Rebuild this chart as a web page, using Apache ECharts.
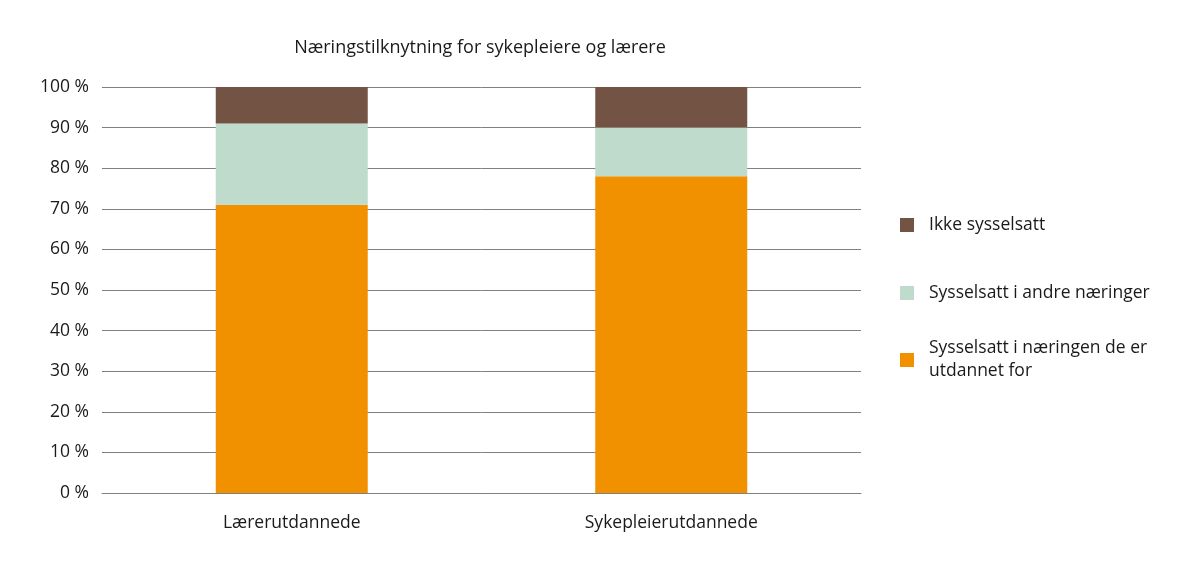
<!DOCTYPE html>
<html>
<head>
<meta charset="utf-8">
<script src="https://cdn.jsdelivr.net/npm/echarts@6/dist/echarts.min.js"></script>
<style>html,body{margin:0;padding:0;background:#fff}#c{width:1200px;height:569px}</style>
</head>
<body>
<div id="c"></div>
<script>
const categories = ['Lærerutdannede', 'Sykepleierutdannede'];
const seriesNames = ['Sysselsatt i næringen de er utdannet for', 'Sysselsatt i andre næringer', 'Ikke sysselsatt'];
const valuesUtdannetFor = [71, 78];
const valuesAndre = [20, 12];
const valuesIkke = [9, 10];
const colors = ['#F29100', '#BFDBCB', '#735444'];
const FONT = 'Open Sans';
const FS = 17.5;

const chart = echarts.init(document.getElementById('c'));
const legendBase = {
  orient: 'vertical', left: 900, padding: 0, itemWidth: 14, itemHeight: 14,
  icon: 'rect', selectedMode: false,
  textStyle: { fontFamily: FONT, fontSize: FS, color: '#1a1a1a', lineHeight: 23, padding: [0, 0, 0, 10] }
};
chart.setOption({
  animation: false,
  color: colors,
  title: {
    text: 'Næringstilknytning for sykepleiere og lærere',
    left: 475, top: 34, textAlign: 'center',
    textStyle: { fontFamily: FONT, fontSize: 18, fontWeight: 'normal', color: '#1a1a1a' }
  },
  legend: [
    Object.assign({}, legendBase, { top: 218 - 4.5, data: [seriesNames[2]] }),
    Object.assign({}, legendBase, { top: 286 - 4.5, data: [seriesNames[1]] }),
    Object.assign({}, legendBase, {
      top: 353 - 27.5, data: [seriesNames[0]],
      formatter: function () { return 'Sysselsatt i næringen de er\nutdannet for'; },
      textStyle: Object.assign({}, legendBase.textStyle, { padding: [23, 0, 0, 10] })
    })
  ],
  grid: { left: 102, right: 339, top: 87, bottom: 76 },
  xAxis: {
    type: 'category', data: categories,
    axisTick: { show: false },
    axisLine: { show: true, lineStyle: { color: '#808080', width: 1 } },
    axisLabel: { fontFamily: FONT, fontSize: FS, color: '#1a1a1a', margin: 21 }
  },
  yAxis: {
    type: 'value', min: 0, max: 100, interval: 10,
    axisLine: { show: false }, axisTick: { show: false },
    axisLabel: { fontFamily: FONT, fontSize: FS, color: '#1a1a1a', margin: 13, formatter: '{value} %' },
    splitLine: { lineStyle: { color: '#808080', width: 1 } }
  },
  series: [
    { name: seriesNames[0], type: 'bar', stack: 'a', data: valuesUtdannetFor, barWidth: 152 },
    { name: seriesNames[1], type: 'bar', stack: 'a', data: valuesAndre, barWidth: 152 },
    { name: seriesNames[2], type: 'bar', stack: 'a', data: valuesIkke, barWidth: 152 }
  ]
});
</script>
</body>
</html>
